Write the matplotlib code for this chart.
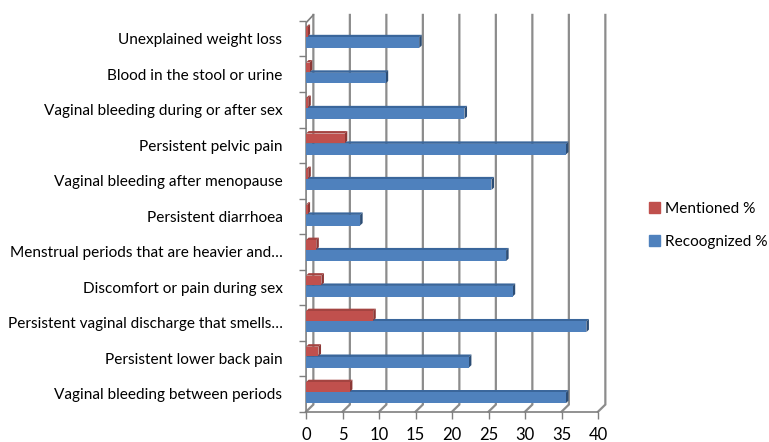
import matplotlib.pyplot as plt
from matplotlib.patches import Polygon, Rectangle

categories = ["Vaginal bleeding between periods",
              "Persistent lower back pain",
              "Persistent vaginal discharge that smells\u2026",
              "Discomfort or pain during sex",
              "Menstrual periods that are heavier and\u2026",
              "Persistent diarrhoea",
              "Vaginal bleeding after menopause",
              "Persistent pelvic pain",
              "Vaginal bleeding during or after sex",
              "Blood in the stool or urine",
              "Unexplained weight loss"]
mentioned = [6.0, 1.7, 9.2, 2.1, 1.4, 0.2, 0.3, 5.3, 0.3, 0.5, 0.2]
recognized = [35.6, 22.3, 38.4, 28.3, 27.4, 7.4, 25.4, 35.6, 21.7, 10.9, 15.5]
xticks = [0, 5, 10, 15, 20, 25, 30, 35, 40]

plt.rcParams['font.family'] = ['Lato', 'DejaVu Sans']

fig = plt.figure(figsize=(7.69, 4.42), dpi=100)
ax = fig.add_axes([0.398, 0.0686, 0.3797, 0.884])
ax.set_xlim(0, 40)
ax.set_ylim(-0.5, 10.5)
for s in ax.spines.values():
    s.set_visible(False)

grid_c = '#8c8c8c'
dx, dy = 1.0, 0.2   # depth offset of the back wall
top = 10.67

# back wall gridlines and floor
for t in xticks:
    ax.plot([t, t + dx, t + dx], [-0.5, -0.5 + dy, top], color=grid_c,
            lw=1.6, clip_on=False, zorder=1, solid_joinstyle='miter')
# left wall / axis line
ax.plot([0, 0, dx], [-0.5, 10.45, top], color='#7f7f7f', lw=1.2,
        clip_on=False, zorder=2)
ax.plot([0, 40], [-0.5, -0.5], color='#7f7f7f', lw=1.2, clip_on=False, zorder=2)


def bar3d(y0, h, v, face, side, topc):
    d, e = 0.35, 0.07
    ax.add_patch(Polygon([(0, y0 + h), (d, y0 + h + e), (v + d, y0 + h + e), (v, y0 + h)],
                         closed=True, facecolor=topc, edgecolor='none', zorder=3, clip_on=False))
    ax.add_patch(Polygon([(v, y0), (v + d, y0 + e), (v + d, y0 + h + e), (v, y0 + h)],
                         closed=True, facecolor=side, edgecolor='none', zorder=3, clip_on=False))
    ax.add_patch(Rectangle((0, y0), v, h, facecolor=face, edgecolor='none',
                           zorder=4, clip_on=False))


for i in range(len(categories)):
    bar3d(i - 0.26, 0.30, recognized[i], '#4f81bd', '#2c4d75', '#3a669b')
    bar3d(i + 0.06, 0.27, mentioned[i], '#c0504d', '#8c3836', '#a44441')

ax.set_yticks(range(len(categories)))
ax.set_yticklabels(categories, fontsize=11.1)
ax.set_yticks([i - 0.5 for i in range(len(categories) + 1)], minor=True)
ax.tick_params(axis='y', which='major', length=0, pad=17)
ax.tick_params(axis='y', which='minor', length=5, color='#7f7f7f', width=1)

ax.set_xticks(xticks)
ax.set_xticklabels([str(t) for t in xticks], fontsize=12)
ax.tick_params(axis='x', length=5, color='#7f7f7f', width=1, pad=6)

legend_handles = [Rectangle((0, 0), 1, 1, color='#c0504d'),
                  Rectangle((0, 0), 1, 1, color='#4f81bd')]
fig.legend(legend_handles, ['Mentioned %', 'Recoognized %'],
           loc='center left', bbox_to_anchor=(0.826, 0.49), frameon=False,
           fontsize=11.1, handlelength=0.7, handleheight=0.7,
           labelspacing=1.25, handletextpad=0.35)

fig.savefig('out.png', dpi=100)
